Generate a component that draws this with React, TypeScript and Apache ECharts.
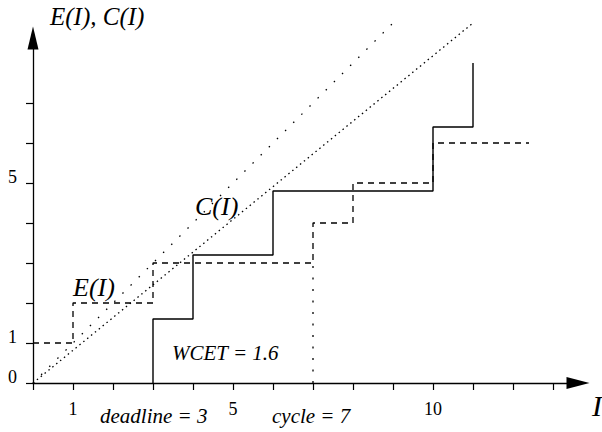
import React, { useEffect, useRef } from "react";
import * as echarts from "echarts";

// ---- data ----
const xTickValues = [0, 1, 2, 3, 4, 5, 6, 7, 8, 9, 10, 11, 12, 13];
const yTickValues = [0, 1, 2, 3, 4, 5, 6, 7];
const xLabelValues = [1, 5, 10];
const yLabelValues = [0, 1, 5];

// E(I): dashed staircase
const eSteps: number[][] = [
  [0, 1], [1, 1], [1, 2], [3, 2], [3, 3], [7, 3], [7, 4], [8, 4],
  [8, 5], [10, 5], [10, 6], [12.4, 6],
];
// C(I): solid staircase, steps of WCET = 1.6
const cSteps: number[][] = [
  [3, 0], [3, 1.6], [4, 1.6], [4, 3.2], [6, 3.2], [6, 4.8], [10, 4.8],
  [10, 6.4], [11, 6.4], [11, 8],
];
// dotted bounds
const eBound: number[][] = [[0, 0], [9, 9]];
const cBound: number[][] = [[0, 0], [11, 9]];
// cycle marker
const cycleMarker: number[][] = [[7, 0], [7, 3]];

const yAxisTitle = "E(I), C(I)";
const xAxisTitle = "I";
const eLabel = "E(I)";
const cLabel = "C(I)";
const wcetLabel = "WCET = 1.6";
const deadlineLabel = "deadline = 3";
const cycleLabel = "cycle = 7";

const FONT = "Liberation Serif";
const INK = "#000";

export default function App() {
  const ref = useRef<HTMLDivElement>(null);

  useEffect(() => {
    document.body.style.margin = "0";
    if (!ref.current) return;
    const chart = echarts.init(ref.current, undefined, { renderer: "svg" });

    const lineSeries = (data: number[][], type: any, width = 1.3) => ({
      type: "line",
      data,
      showSymbol: false,
      symbol: "none",
      clip: false,
      silent: true,
      animation: false,
      lineStyle: { color: INK, width, type },
    });

    // x = left edge, baseline = alphabetic baseline of the text
    const italic = (text: string, x: number, baseline: number, size: number) => ({
      type: "text",
      x,
      y: Math.round(baseline - 0.84 * size),
      silent: true,
      style: {
        text,
        fill: INK,
        fontFamily: FONT,
        fontSize: size,
        fontStyle: "italic",
        verticalAlign: "top",
        align: "left",
      },
    });

    chart.setOption({
      animation: false,
      backgroundColor: "#fff",
      grid: {
        left: 33,
        right: 24,
        top: 38,
        bottom: 49,
        containLabel: false,
        outerBoundsMode: "none",
      },
      xAxis: {
        type: "value",
        min: 0,
        max: 13.625,
        interval: 1,
        splitLine: { show: false },
        axisLine: {
          show: true,
          onZero: false,
          symbol: ["none", "triangle"],
          symbolSize: [12, 23],
          lineStyle: { color: INK, width: 1.3 },
        },
        axisTick: {
          show: true,
          length: 7,
          customValues: xTickValues,
          lineStyle: { color: INK, width: 1.2 },
        },
        axisLabel: {
          show: true,
          customValues: xLabelValues,
          margin: 17,
          color: INK,
          fontFamily: FONT,
          fontSize: 18,
        },
      },
      yAxis: {
        type: "value",
        min: 0,
        max: 8.625,
        interval: 1,
        splitLine: { show: false },
        axisLine: {
          show: true,
          onZero: false,
          symbol: ["none", "triangle"],
          symbolSize: [11, 23],
          lineStyle: { color: INK, width: 1.3 },
        },
        axisTick: {
          show: true,
          length: 7,
          customValues: yTickValues,
          lineStyle: { color: INK, width: 1.2 },
        },
        axisLabel: {
          show: true,
          customValues: yLabelValues,
          margin: 16,
          color: INK,
          fontFamily: FONT,
          fontSize: 18,
          verticalAlign: "bottom",
          lineHeight: 12,
        },
      },
      series: [
        lineSeries(eBound, [1.5, 10], 1.3),
        lineSeries(cBound, [1.5, 3.5], 1.3),
        lineSeries(cycleMarker, [2, 9.5], 1.3),
        lineSeries(eSteps, [6, 5], 1.3),
        lineSeries(cSteps, "solid", 1.4),
      ],
      graphic: [
        italic(yAxisTitle, 50, 25, 25),
        italic(xAxisTitle, 592, 415, 30),
        italic(eLabel, 73, 296, 26),
        italic(cLabel, 195, 215, 26),
        italic(wcetLabel, 172, 360, 21),
        italic(deadlineLabel, 100, 423, 21),
        italic(cycleLabel, 272, 423, 21),
      ],
    });

    return () => chart.dispose();
  }, []);

  return <div ref={ref} style={{ width: 602, height: 432 }} />;
}
